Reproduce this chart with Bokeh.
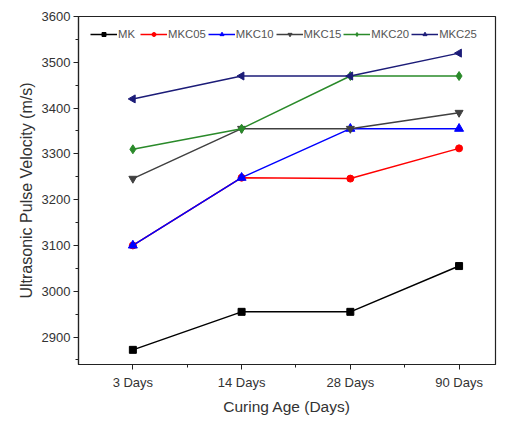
from bokeh.plotting import figure
from bokeh.models import FixedTicker, Legend, LegendItem, Range1d
from bokeh.embed import file_html
from bokeh.resources import INLINE

categories = ["3 Days", "14 Days", "28 Days", "90 Days"]
series_names = ["MK", "MKC05", "MKC10", "MKC15", "MKC20", "MKC25"]
mk = [2872, 2955, 2955, 3055]
mkc05 = [3100, 3248, 3246, 3312]
mkc10 = [3100, 3248, 3355, 3355]
mkc15 = [3246, 3355, 3355, 3390]
mkc20 = [3310, 3355, 3470, 3470]
mkc25 = [3420, 3470, 3470, 3520]
y_ticks = [2900, 3000, 3100, 3200, 3300, 3400, 3500, 3600]

values = [mk, mkc05, mkc10, mkc15, mkc20, mkc25]
colors = ["#000000", "#ff0000", "#0000ff", "#404040", "#2a8a2a", "#1c1c78"]
markers = ["square", "circle", "triangle", "inverted_triangle", "diamond", "triangle"]
sizes = [7, 7, 9, 8, 9, 8]
angles = [0, 0, 0, 0, 0, 1.5708]

xs = list(range(1, len(categories) + 1))

p = figure(width=497, height=417, output_backend="svg", toolbar_location=None,
           x_range=Range1d(0.5, 4.335), y_range=Range1d(2840, 3600),
           min_border_left=78, min_border_top=16, min_border_right=2, min_border_bottom=45)
p.background_fill_color = "white"
p.border_fill_color = "white"
p.outline_line_color = "#222222"
p.outline_line_width = 1.2
p.xgrid.visible = False
p.ygrid.visible = False

items = []
for name, vals, c, m, sz, a in zip(series_names, values, colors, markers, sizes, angles):
    l = p.line(xs, vals, line_color=c, line_width=1.5)
    s = p.scatter(xs, vals, marker=m, size=sz, fill_color=c, line_color=c, angle=a)
    items.append(LegendItem(label=name, renderers=[l, s]))

legend = Legend(items=items, orientation="horizontal", location="top_left",
                label_text_font="Liberation Sans", label_text_font_size="8.5pt",
                label_text_color="#555555", glyph_width=27, glyph_height=10,
                spacing=2, padding=2, margin=12, label_standoff=1,
                border_line_color=None, background_fill_alpha=0)
p.add_layout(legend, "center")

p.xaxis.ticker = FixedTicker(ticks=xs, minor_ticks=[1.5, 2.5, 3.5])
p.xaxis.major_label_overrides = {x: c for x, c in zip(xs, categories)}
p.yaxis.ticker = FixedTicker(ticks=y_ticks, minor_ticks=[t + 50 for t in y_ticks] + [2850])

for ax in (p.xaxis[0], p.yaxis[0]):
    ax.axis_line_color = "#222222"
    ax.axis_line_width = 1.2
    ax.major_tick_line_color = "#222222"
    ax.minor_tick_line_color = "#222222"
    ax.major_tick_in = 0
    ax.major_tick_out = 5
    ax.minor_tick_in = 0
    ax.minor_tick_out = 3
    ax.major_label_text_font = "Liberation Sans"
    ax.major_label_text_font_size = "13px"
    ax.major_label_text_color = "#333333"
    ax.axis_label_text_font = "Liberation Sans"
    ax.axis_label_text_font_style = "normal"
    ax.axis_label_text_color = "#333333"

p.xaxis.axis_label = "Curing Age (Days)"
p.yaxis.axis_label = "Ultrasonic Pulse Velocity (m/s)"
p.xaxis.axis_label_text_font_size = "15.5px"
p.yaxis.axis_label_text_font_size = "16px"
p.xaxis.major_label_standoff = 5
p.xaxis.axis_label_standoff = 5
p.yaxis.major_label_standoff = 3
p.yaxis.axis_label_standoff = 4

open("out.html", "w").write(file_html(p, INLINE))
